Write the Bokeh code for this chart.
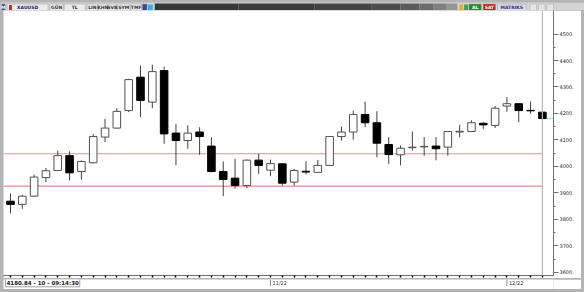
from bokeh.plotting import figure
from bokeh.models import ColumnDataSource, Range1d, FixedTicker, Span
from bokeh.layouts import column
from bokeh.embed import file_html
from bokeh.resources import INLINE
from bokeh.core.properties import value

# ---------------- data ----------------
opens = [3869, 3857, 3888, 3958, 3985, 4041, 3981, 4014, 4111, 4145,
         4211, 4337, 4243, 4362, 4126, 4098, 4130, 4077, 3981, 3956,
         3928, 4024, 3986, 4010, 3941, 3982, 3978, 4004, 4113, 4130,
         4196, 4165, 4083, 4044, 4071, 4074, 4077, 4073, 4130, 4132,
         4163, 4155, 4228, 4237, 4212, 4205]
highs = [3898, 3893, 3969, 3994, 4060, 4057, 4023, 4122, 4180, 4220,
         4331, 4381, 4384, 4377, 4161, 4155, 4148, 4111, 4019, 4029,
         4026, 4048, 4026, 4012, 3991, 4020, 4025, 4115, 4151, 4211,
         4245, 4209, 4111, 4079, 4132, 4111, 4111, 4134, 4157, 4174,
         4167, 4228, 4262, 4237, 4245, 4207]
lows = [3823, 3840, 3886, 3941, 3983, 3947, 3950, 4012, 4092, 4143,
        4205, 4186, 4220, 4086, 4004, 4067, 4044, 3978, 3888, 3916,
        3918, 3972, 3963, 3928, 3928, 3970, 3977, 4002, 4098, 4101,
        4148, 4035, 4010, 4004, 4060, 4041, 4023, 4041, 4111, 4130,
        4142, 4145, 4207, 4167, 4199, 4178]
closes = [3857, 3888, 3960, 3984, 4041, 3976, 4019, 4113, 4145, 4208,
          4328, 4249, 4358, 4123, 4098, 4126, 4113, 3981, 3951, 3928,
          4024, 4004, 4011, 3937, 3985, 3979, 4004, 4113, 4130, 4196,
          4165, 4088, 4045, 4069, 4073, 4076, 4067, 4132, 4133, 4165,
          4157, 4220, 4237, 4211, 4210, 4180.84]
levels = [4048, 3926]
y_ticks = [3600, 3700, 3800, 3900, 4000, 4100, 4200, 4300, 4400, 4500]
y_tick_labels = ["3600.", "3700.", "3800.", "3900.", "4000.",
                 "4100.", "4200.", "4300.", "4400.", "4500."]
month_idx = [22, 42]
month_labels = ["11/22", "12/22"]
status_text = "4180.84 - 10 - 09:14:30"

FONT = "DejaVu Sans"
n = len(closes)
xs = list(range(n))
up = [c >= o for o, c in zip(opens, closes)]
src = ColumnDataSource(dict(
    x=xs, high=highs, low=lows,
    top=[max(o, c) for o, c in zip(opens, closes)],
    bottom=[min(o, c) for o, c in zip(opens, closes)],
    fill=["white" if u else "black" for u in up],
    line=["#505050" if u else "black" for u in up],
))

# ---------------- main chart ----------------
x_start, x_end = -0.59, 45.94
y_start, y_end = 3588.6, 4588.7
p = figure(width=578, height=268, output_backend="svg", toolbar_location=None,
           x_range=Range1d(x_start, x_end), y_range=Range1d(y_start, y_end),
           y_axis_location="right", min_border_left=0, min_border_right=28,
           min_border_top=0, min_border_bottom=3, margin=(0, 3, 0, 3))
p.outline_line_color = None
p.background_fill_color = "white"
p.border_fill_color = "white"
p.grid.visible = False

# y axis (right)
ya = p.yaxis[0]
ya.ticker = FixedTicker(ticks=y_ticks,
                        minor_ticks=[t + 50 for t in y_ticks[:-1]])
ya.major_label_overrides = {t: l for t, l in zip(y_ticks, y_tick_labels)}
ya.major_label_text_font = FONT
ya.major_label_text_font_size = "5px"
ya.major_label_text_color = "#202020"
ya.major_label_standoff = 1
ya.major_tick_out = 5
ya.major_tick_in = 0
ya.minor_tick_out = 2
ya.minor_tick_in = 0
ya.axis_line_color = "#707070"
ya.major_tick_line_color = "#707070"
ya.minor_tick_line_color = "#707070"

# x axis (below): a dot under every candle
xa = p.xaxis[0]
xa.ticker = FixedTicker(ticks=xs, minor_ticks=[])
xa.major_label_overrides = {i: "" for i in xs}
xa.major_label_text_font_size = "0px"
xa.major_label_standoff = 0
xa.major_tick_out = 2
xa.major_tick_in = 0
xa.major_tick_line_width = 1.5
xa.major_tick_line_color = "black"
xa.axis_line_color = "#707070"

# support / resistance lines
p.segment(x0=[x_start] * len(levels), x1=[xs[-1]] * len(levels),
          y0=levels, y1=levels, line_color="#f08a8a", line_width=1.2)

# cursor line and last price marker
p.add_layout(Span(location=xs[-1], dimension="height",
                  line_color="#b8b8b8", line_width=1.2))
p.segment(x0=xs[-1], x1=x_end, y0=closes[-1], y1=closes[-1],
          line_color="#80e6e6", line_width=1)

# candles
p.segment(x0="x", y0="high", x1="x", y1="low", source=src,
          line_color="#404040", line_width=1)
p.vbar(x="x", width=0.64, top="top", bottom="bottom", source=src,
       fill_color="fill", line_color="line", line_width=1)

# ---------------- status strip under the chart ----------------
bt = figure(width=578, height=11, output_backend="svg", toolbar_location=None,
            x_range=p.x_range, y_range=Range1d(11, 0),
            min_border_left=0, min_border_right=28, min_border_top=0,
            min_border_bottom=0, margin=(0, 3, 3, 3))
bt.axis.visible = False
bt.grid.visible = False
bt.outline_line_color = None
bt.background_fill_color = "white"
bt.border_fill_color = "white"
bt.segment(x0=month_idx, x1=month_idx, y0=[0] * len(month_idx),
           y1=[6.5] * len(month_idx), line_color="#909090", line_width=1)
bt.text(x=month_idx, y=[3.5] * len(month_idx), text=month_labels,
        x_offset=2, text_baseline="middle", text_align="left",
        text_font=value(FONT), text_font_size="5px", text_color="#303030")
bt.text(x=[x_start], y=[3.3], text=[status_text], x_offset=2,
        text_baseline="middle", text_align="left",
        text_font=value(FONT), text_font_size="5.5px",
        text_font_style="bold", text_color="#202020",
        background_fill_color="white", border_line_color="#a0a0a0",
        padding=1)

# ---------------- window toolbar ----------------
tb = figure(width=584, height=10, output_backend="svg", toolbar_location=None,
            x_range=Range1d(0, 584), y_range=Range1d(10, 0),
            min_border=0)
tb.axis.visible = False
tb.grid.visible = False
tb.outline_line_color = None
tb.background_fill_color = "#d4d4d4"
tb.border_fill_color = "#d4d4d4"

boxes = [  # x0, x1, label, fill, text colour
    (1, 5, "M", "#2e4fa0", "white"),
    (7, 50, "XAUUSD", "#ececec", "#202060"),
    (52, 66, "GÜN", "#ececec", "#303030"),
    (67, 89, "TL", "#ececec", "#303030"),
    (91, 102, "LIN", "#ececec", "#303030"),
    (103, 112, "KHN", "#ececec", "#303030"),
    (113, 122, "SVB", "#ececec", "#303030"),
    (123, 136, "SYM", "#ececec", "#303030"),
    (137, 148, "TMF", "#ececec", "#303030"),
    (149, 154, "", "#3a4a8a", "white"),
    (492, 505, "AL", "#1e8c2a", "white"),
    (507, 520, "SAT", "#c01818", "white"),
    (522, 552, "MATRIKS", "#dcdcec", "#30306a"),
]
tb.quad(left=[b[0] for b in boxes], right=[b[1] for b in boxes],
        top=[1.5] * len(boxes), bottom=[8.5] * len(boxes),
        fill_color=[b[3] for b in boxes], line_color="#a0a0a0", line_width=0.5)
tb.text(x=[(b[0] + b[1]) / 2 for b in boxes], y=[5.2] * len(boxes),
        text=[b[2] for b in boxes], text_color=[b[4] for b in boxes],
        text_align="center", text_baseline="middle",
        text_font=value(FONT), text_font_size="4.5px", text_font_style="bold")
# small icons
tb.quad(left=[9, 155, 482, 487], right=[12, 160, 486, 491],
        top=[2.5, 2, 2, 2], bottom=[7.5, 8, 8, 8],
        fill_color=["#d02020", "#30b0e8", "#e8b020", "#40a040"], line_color=None)
# dark gradient bar
shades = ["#383838", "#3c3c3c", "#424242", "#4c4c4c", "#5a5a5a",
          "#6c6c6c", "#808080", "#969696"]
edges = [162, 250, 330, 390, 420, 440, 455, 468, 480]
tb.quad(left=edges[:-1], right=edges[1:], top=[1] * len(shades),
        bottom=[9] * len(shades), fill_color=shades, line_color=None)
# window buttons
tb.quad(left=[556, 565, 574], right=[563, 572, 581], top=[1.5] * 3,
        bottom=[8.5] * 3, fill_color="#e4e4e4", line_color="#a8a8a8",
        line_width=0.5)

layout = column(tb, p, bt, spacing=0, styles={"background-color": "#b4b4b4"})
open("out.html", "w").write(file_html(layout, INLINE))
